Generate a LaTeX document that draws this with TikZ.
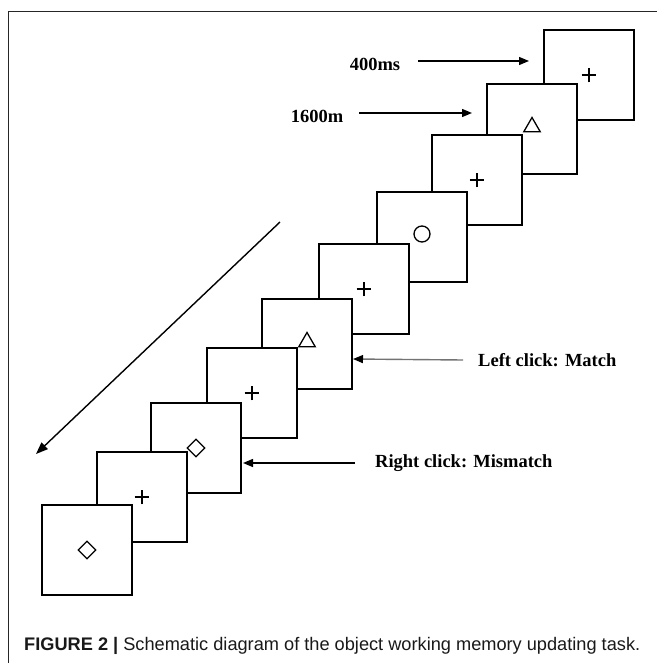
\documentclass[tikz,border=0pt]{standalone}
\usepackage{fontspec}
\setmainfont{Liberation Serif}
\newfontfamily\capfont{Liberation Sans}
\usetikzlibrary{arrows.meta,shapes.geometric,shapes.misc}
\begin{document}
\begin{tikzpicture}[x=1pt,y=-1pt,
  sq/.style={draw=black,line width=1.8pt,fill=white,minimum size=89.5pt,inner sep=0pt,outer sep=0pt},
  plussym/.style={draw=black,cross out,rotate=45,minimum size=9pt,inner sep=0pt,line width=1.3pt},
  trisym/.style={draw=black,regular polygon,regular polygon sides=3,minimum size=19pt,inner sep=0pt,line width=1.3pt},
  diasym/.style={draw=black,diamond,aspect=1,minimum width=18pt,minimum height=18pt,inner sep=0pt,line width=1.3pt},
  circsym/.style={draw=black,circle,minimum size=16pt,inner sep=0pt,line width=1.3pt},
  lbl/.style={font=\fontsize{18.5}{20}\selectfont\bfseries,inner sep=0pt},
  arr/.style={line width=1.3pt,-{Triangle[length=10pt,width=8pt]}}
]
\useasboundingbox (0,0) rectangle (657,663);
% frame
\draw[line width=1pt,black!85] (8,663) -- (8,12) -- (657,12);
% squares, top first (lower squares lie in front)
\node[sq] (s10) at (589,75) {};
\node[sq] (s9) at (532,129) {};
\node[sq] (s8) at (477,180) {};
\node[sq] (s7) at (422,237) {};
\node[sq] (s6) at (364,289) {};
\node[sq] (s5) at (307,344) {};
\node[sq] (s4) at (252,393) {};
\node[sq] (s3) at (196,448) {};
\node[sq] (s2) at (142,497) {};
\node[sq] (s1) at (87,550) {};
% symbols
\node[plussym] (p10) at (s10.center) {};
\node[trisym] (t9) at ([yshift=2pt]s9.center) {};
\node[plussym] (p8) at (s8.center) {};
\node[circsym] (c7) at ([yshift=3pt]s7.center) {};
\node[plussym] (p6) at (s6.center) {};
\node[trisym] (t5) at ([yshift=2pt]s5.center) {};
\node[plussym] (p4) at (s4.center) {};
\node[diasym] (d3) at (s3.center) {};
\node[plussym] (p2) at (s2.center) {};
\node[diasym] (d1) at (s1.center) {};
% labels and arrows
\node[lbl] (l400) at (375,64) {400ms};
\coordinate (e400) at (529,61);
\draw[arr] (418,61) -- (e400);
\node[lbl] (l1600) at (317,116) {1600m};
\coordinate (e1600) at (472,113);
\draw[arr] (359,113) -- (e1600);
\node[lbl,anchor=west] (lleft) at (478,360) {Left click: Match};
\coordinate (eleft) at (353,359);
\draw[line width=1.4pt,black!55,-{Triangle[length=10pt,width=8pt,fill=black,color=black]}] ([xshift=-15pt]lleft.west) -- (eleft);
\node[lbl,anchor=west] (lright) at (375,463) {Right click: Mismatch};
\coordinate (eright) at (243,463);
\draw[arr] ([xshift=-20pt]lright.west) -- (eright);
% diagonal time arrow
\coordinate (dstart) at (280,222);
\coordinate (dend) at (36,454);
\draw[line width=1.4pt,-{Triangle[length=12pt,width=9pt]}] (dstart) -- (dend);
% caption
\node[anchor=west,inner sep=0pt,text=black!90] (cap) at (24,646) {\capfont\fontsize{18.2}{20}\selectfont\textbf{FIGURE 2 |} Schematic diagram of the object working memory updating task.};
\end{tikzpicture}
\end{document}
